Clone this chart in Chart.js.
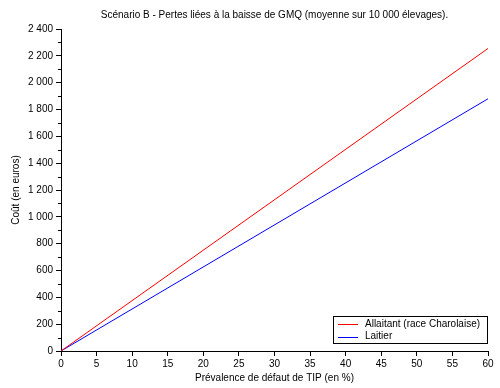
<!DOCTYPE html>
<html>
<head>
<meta charset="utf-8">
<script src="https://cdn.jsdelivr.net/npm/chart.js@4"></script>
<style>
  html, body { margin: 0; padding: 0; background: #fff; }
  #wrap { width: 500px; height: 388px; }
</style>
</head>
<body>
<div id="wrap"><canvas id="gmqChart" width="500" height="388"></canvas></div>
<script>
// prevalence (%) and losses (euros)
const prevalence = [0, 60];
const allaitant = [0, 2255];
const laitier = [0, 1880];

const titleText = "Scénario B - Pertes liées à la baisse de GMQ (moyenne sur 10 000 élevages).";
const fontFam = "'Liberation Sans', Arial, sans-serif";

function fmt(v) {
    return String(v).replace(/\B(?=(\d{3})+(?!\d))/g, " ");
}

// title, minor ticks on y, boxed legend in the lower right
const extras = {
    id: 'extras',
    afterDraw(chart) {
        const ctx = chart.ctx;
        const area = chart.chartArea;
        const y = chart.scales.y;
        ctx.save();
        ctx.fillStyle = '#000';
        ctx.font = '10px ' + fontFam;
        ctx.textAlign = 'center';
        ctx.textBaseline = 'middle';
        ctx.fillText(titleText, (area.left + area.right) / 2, 15);

        ctx.strokeStyle = '#000';
        ctx.lineWidth = 1;
        for (let v = 100; v < y.max; v += 200) {
            const py = Math.round(y.getPixelForValue(v)) + 0.5;
            ctx.beginPath();
            ctx.moveTo(area.left - 3, py);
            ctx.lineTo(area.left, py);
            ctx.stroke();
        }

        const bx = area.right - 155, by = area.bottom - 35, bw = 154, bh = 27;
        ctx.fillStyle = '#fff';
        ctx.fillRect(bx, by, bw, bh);
        ctx.strokeRect(bx + 0.5, by + 0.5, bw, bh);
        ctx.textAlign = 'left';
        chart.data.datasets.forEach((ds, i) => {
            const ly = by + 8 + i * 12.5;
            ctx.strokeStyle = ds.borderColor;
            ctx.beginPath();
            ctx.moveTo(bx + 5, Math.round(ly) + 0.5);
            ctx.lineTo(bx + 25, Math.round(ly) + 0.5);
            ctx.stroke();
            ctx.fillStyle = '#000';
            ctx.fillText(ds.label, bx + 32, ly);
        });
        ctx.restore();
    }
};

new Chart(document.getElementById('gmqChart'), {
    type: 'line',
    data: {
        datasets: [{
            label: 'Allaitant (race Charolaise)',
            data: prevalence.map((x, i) => ({ x: x, y: allaitant[i] })),
            borderColor: '#ff0000',
            borderWidth: 1,
            pointRadius: 0,
            tension: 0
        }, {
            label: 'Laitier',
            data: prevalence.map((x, i) => ({ x: x, y: laitier[i] })),
            borderColor: '#0000ff',
            borderWidth: 1,
            pointRadius: 0,
            tension: 0
        }]
    },
    options: {
        responsive: false,
        animation: false,
        layout: { padding: { top: 29, right: 12, left: 0, bottom: 0 } },
        scales: {
            x: {
                type: 'linear',
                min: 0,
                max: 60,
                afterFit: s => { s.height = 37; },
                border: { color: '#000' },
                grid: { drawOnChartArea: false, tickLength: 5, tickColor: '#000' },
                ticks: { stepSize: 5, color: '#000', padding: 2, maxRotation: 0, font: { size: 10, family: fontFam } },
                title: { display: true, text: 'Prévalence de défaut de TIP (en %)', color: '#000', padding: { top: 0, bottom: 4 }, font: { size: 10, family: fontFam } }
            },
            y: {
                min: 0,
                max: 2400,
                afterFit: s => { s.width = 61; },
                border: { color: '#000' },
                grid: { drawOnChartArea: false, tickLength: 5, tickColor: '#000' },
                ticks: { stepSize: 200, color: '#000', padding: 3, font: { size: 10, family: fontFam }, callback: v => fmt(v) },
                title: { display: true, text: 'Coût (en euros)', color: '#000', padding: { top: 10, bottom: 0 }, font: { size: 10, family: fontFam } }
            }
        },
        plugins: {
            legend: { display: false },
            tooltip: { enabled: false }
        }
    },
    plugins: [extras]
});
</script>
</body>
</html>
